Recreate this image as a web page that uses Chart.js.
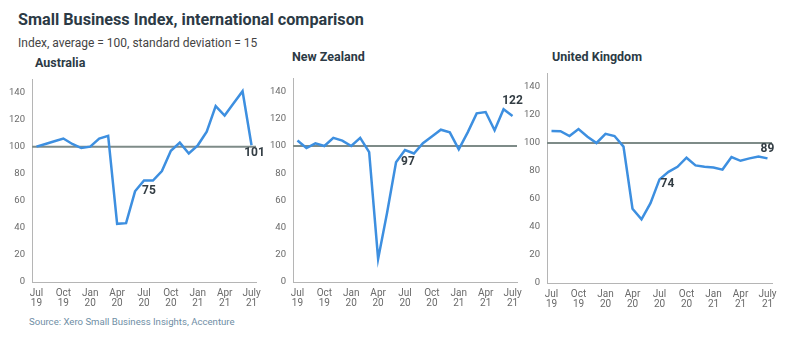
<!DOCTYPE html>
<html>
<head>
<meta charset="utf-8">
<script src="https://cdn.jsdelivr.net/npm/chart.js@4.4.1/dist/chart.umd.min.js"></script>
<style>
  html, body { margin: 0; padding: 0; background: #fff; }
  body { width: 800px; height: 337px; position: relative; overflow: hidden; font-family: Roboto, sans-serif; }
  .txt { position: absolute; white-space: nowrap; }
  #title { left: 18px; top: 9px; font-size: 16.2px; font-weight: bold; color: #2c3a45; line-height: 22px; }
  #subtitle { left: 18px; top: 35px; font-size: 12px; color: #444; line-height: 16px; }
  .panel-title { font-size: 12.5px; font-weight: bold; color: #2c3a45; line-height: 16px; }
  #source { left: 29px; top: 315px; font-size: 9.6px; color: #6f8ea5; line-height: 14px; }
  .box { position: absolute; top: 60px; height: 250px; }
</style>
</head>
<body>
<div id="title" class="txt">Small Business Index, international comparison</div>
<div id="subtitle" class="txt">Index, average = 100, standard deviation = 15</div>
<div class="txt panel-title" style="left:35px; top:55px;">Australia</div>
<div class="txt panel-title" style="left:292px; top:49px;">New Zealand</div>
<div class="txt panel-title" style="left:552px; top:49px;">United Kingdom</div>
<div id="source" class="txt">Source: Xero Small Business Insights, Accenture</div>

<div class="box" style="left:0px; width:270px;"><canvas id="chart-au"></canvas></div>
<div class="box" style="left:262px; width:270px;"><canvas id="chart-nz"></canvas></div>
<div class="box" style="left:516px; width:284px;"><canvas id="chart-uk"></canvas></div>

<script>
// Monthly, Jul 2019 - Jul 2021
const months = ['Jul 19','Aug 19','Sep 19','Oct 19','Nov 19','Dec 19','Jan 20','Feb 20','Mar 20','Apr 20','May 20','Jun 20',
                'Jul 20','Aug 20','Sep 20','Oct 20','Nov 20','Dec 20','Jan 21','Feb 21','Mar 21','Apr 21','May 21','Jun 21','Jul 21'];
const tickLabels = [['Jul','19'],['Oct','19'],['Jan','20'],['Apr','20'],['Jul','20'],['Oct','20'],['Jan','21'],['Apr','21'],['July','21']];
const yTicks = [0, 20, 40, 60, 80, 100, 120, 140];
const average = 100;

const australia = [100, 102, 104, 106, 102, 99, 100, 106, 108, 43, 43.5, 67, 75, 75, 82, 97, 103, 95, 101, 111, 130, 123, 132, 141, 101];
const newZealand = [104, 98.5, 102, 100, 106, 104, 100, 106, 95.5, 17, 51, 88, 97, 94.5, 102, 107, 112, 110, 97.5, 110, 124, 125, 111.5, 127, 122];
const unitedKingdom = [108.6, 108.4, 105, 110, 104.5, 100, 106.5, 105, 97.4, 53, 45.5, 57, 74, 79.4, 83, 89.5, 84, 83, 82.5, 81, 90, 87.3, 89, 90.4, 89];

// which points get a value label
const auLabels = [12, 24];
const nzLabels = [12, 24];
const ukLabels = [12, 24];

const lineBlue = '#3d8fe0';
const axisGrey = '#b5b5b5';
const tickGrey = '#6a6a6a';

// grey line at the index average
const averageLine = {
    id: 'averageLine',
    beforeDatasetsDraw(chart) {
        const { ctx, chartArea, scales } = chart;
        const y = scales.y.getPixelForValue(average);
        ctx.save();
        ctx.strokeStyle = '#7e8b88';
        ctx.lineWidth = 2;
        ctx.beginPath();
        ctx.moveTo(chartArea.left, y);
        ctx.lineTo(chartArea.right, y);
        ctx.stroke();
        ctx.restore();
    }
};

const valueLabels = {
    id: 'valueLabels',
    afterDatasetsDraw(chart, args, opts) {
        const { ctx } = chart;
        const meta = chart.getDatasetMeta(0);
        const data = chart.data.datasets[0].data;
        ctx.save();
        ctx.font = 'bold 12px Roboto, sans-serif';
        ctx.fillStyle = '#333d44';
        ctx.textAlign = 'center';
        ctx.textBaseline = 'middle';
        (opts.items || []).forEach(item => {
            const pt = meta.data[item.index];
            ctx.fillText(Math.round(data[item.index]), pt.x + item.dx, pt.y + item.dy);
        });
        ctx.restore();
    }
};

function makeChart(id, values, labelItems, pad, yWidth, xHeight) {
    return new Chart(document.getElementById(id), {
        type: 'line',
        data: {
            labels: months,
            datasets: [{
                data: values,
                borderColor: lineBlue,
                borderWidth: 2.5,
                pointRadius: 0,
                tension: 0,
                fill: false
            }]
        },
        plugins: [averageLine, valueLabels],
        options: {
            responsive: true,
            maintainAspectRatio: false,
            animation: false,
            layout: { padding: pad },
            plugins: {
                legend: { display: false },
                tooltip: { enabled: false },
                valueLabels: { items: labelItems }
            },
            scales: {
                x: {
                    offset: true,
                    grid: { display: false, drawTicks: false },
                    border: { display: true, color: axisGrey, width: 1 },
                    afterFit(scale) { scale.height = xHeight; },
                    ticks: {
                        autoSkip: false,
                        maxRotation: 0,
                        padding: 7,
                        color: tickGrey,
                        font: { family: 'Roboto, sans-serif', size: 10, lineHeight: 0.95 },
                        callback: (v, i) => (i % 3 === 0 ? tickLabels[i / 3] : '')
                    }
                },
                y: {
                    min: 0,
                    max: 150,
                    grid: { display: false, drawTicks: false },
                    border: { display: true, color: axisGrey, width: 1 },
                    afterFit(scale) { scale.width = yWidth; },
                    afterBuildTicks(scale) { scale.ticks = yTicks.map(v => ({ value: v })); },
                    ticks: {
                        padding: 7,
                        color: tickGrey,
                        font: { family: 'Roboto, sans-serif', size: 9.5 }
                    }
                }
            }
        }
    });
}

makeChart('chart-au', australia,
    [{ index: auLabels[0], dx: 5, dy: 10 }, { index: auLabels[1], dx: 3, dy: 8 }],
    { top: 19, right: 14, left: 0, bottom: 0 }, 32, 28);
makeChart('chart-nz', newZealand,
    [{ index: nzLabels[0], dx: 3, dy: 12 }, { index: nzLabels[1], dx: 0, dy: -15 }],
    { top: 18, right: 15, left: 0, bottom: 0 }, 31, 28);
makeChart('chart-uk', unitedKingdom,
    [{ index: ukLabels[0], dx: 8, dy: 5 }, { index: ukLabels[1], dx: 0, dy: -9 }],
    { top: 13, right: 28, left: 0, bottom: 0 }, 31, 27);
</script>
</body>
</html>
